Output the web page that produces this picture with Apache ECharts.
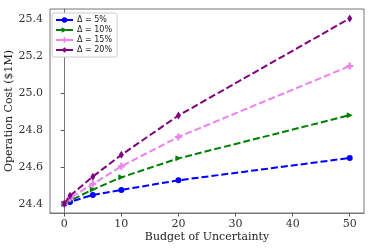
<!DOCTYPE html>
<html><head><meta charset="utf-8">
<script src="https://cdn.jsdelivr.net/npm/echarts@6/dist/echarts.min.js"></script>
<style>html,body{margin:0;padding:0;background:#fff}#c{width:374px;height:251px}</style>
</head><body><div id="c"></div>
<script>
const budgets = [0, 1, 5, 10, 20, 50];
const cost5 = [24.40, 24.41, 24.448, 24.475, 24.527, 24.648];
const cost10 = [24.40, 24.417, 24.477, 24.543, 24.646, 24.88];
const cost15 = [24.40, 24.43, 24.507, 24.603, 24.762, 25.146];
const cost20 = [24.40, 24.443, 24.547, 24.665, 24.878, 25.404];
const seriesNames = ['\u0394 = 5%', '\u0394 = 10%', '\u0394 = 15%', '\u0394 = 20%'];
const xTicks = [0, 10, 20, 30, 40, 50];
const yTicks = [24.4, 24.6, 24.8, 25.0, 25.2, 25.4];
const xTitle = 'Budget of Uncertainty';
const yTitle = 'Operation Cost ($1M)';

const colors = ['#0000ff', '#008000', '#ee82ee', '#800080'];
const symbols = [
  'circle',
  'path://M-3,-3L3,0L-3,3Z',
  'path://M-1,-3H1V-1H3V1H1V3H-1V1H-3V-1H-1Z',
  'path://M0,-4L2.4,0L0,4L-2.4,0Z'
];
const symSizes = [6, 6, 7, [5, 8]];
const data = [cost5, cost10, cost15, cost20];

const chart = echarts.init(document.getElementById('c'));
chart.setOption({
  animation: false,
  grid: {left: 50, right: 10, top: 9, bottom: 38, show: true, borderColor: '#777', borderWidth: 1},
  legend: {
    orient: 'vertical', left: 52, top: 13,
    itemWidth: 17, itemHeight: 7, itemGap: 2,
    padding: [3, 5, 3, 3],
    backgroundColor: '#fff', borderColor: '#ccc', borderWidth: 1, borderRadius: 2,
    textStyle: {fontFamily: 'DejaVu Sans', fontSize: 8, color: '#222', padding: [0, 0, 0, -1]},
    data: seriesNames
  },
  graphic: [{
    type: 'text', x: 9, y: 111, rotation: Math.PI / 2,
    style: {text: yTitle, fontFamily: 'DejaVu Serif', fontSize: 11, fill: '#222', align: 'center', verticalAlign: 'middle'}
  }],
  xAxis: {
    type: 'value', min: -2.5, max: 52.5,
    name: xTitle, nameLocation: 'middle', nameGap: 19, nameMoveOverlap: false,
    nameTextStyle: {fontFamily: 'DejaVu Serif', fontSize: 11, color: '#222'},
    axisLine: {show: true, lineStyle: {color: '#777'}},
    axisTick: {show: true, length: 3.5, customValues: xTicks, lineStyle: {color: '#555'}},
    axisLabel: {customValues: xTicks, margin: 6, fontFamily: 'DejaVu Serif', fontSize: 11, color: '#333'},
    splitLine: {show: false}
  },
  yAxis: {
    type: 'value', min: 24.35, max: 25.455,
    axisLine: {show: true, lineStyle: {color: '#777'}},
    axisTick: {show: true, length: 3.5, customValues: yTicks, lineStyle: {color: '#555'}},
    axisLabel: {customValues: yTicks, margin: 7, fontFamily: 'DejaVu Serif', fontSize: 11, color: '#333',
      hideOverlap: false, formatter: v => v.toFixed(1)},
    splitLine: {show: false}
  },
  series: data.map((d, i) => ({
    name: seriesNames[i], type: 'line',
    data: budgets.map((b, j) => [b, d[j]]),
    color: colors[i],
    symbol: symbols[i], symbolSize: symSizes[i], showSymbol: true,
    itemStyle: {color: colors[i]},
    lineStyle: {color: colors[i], width: 2, type: [7, 3]},
    z: 2 + i
  }))
});
</script></body></html>
